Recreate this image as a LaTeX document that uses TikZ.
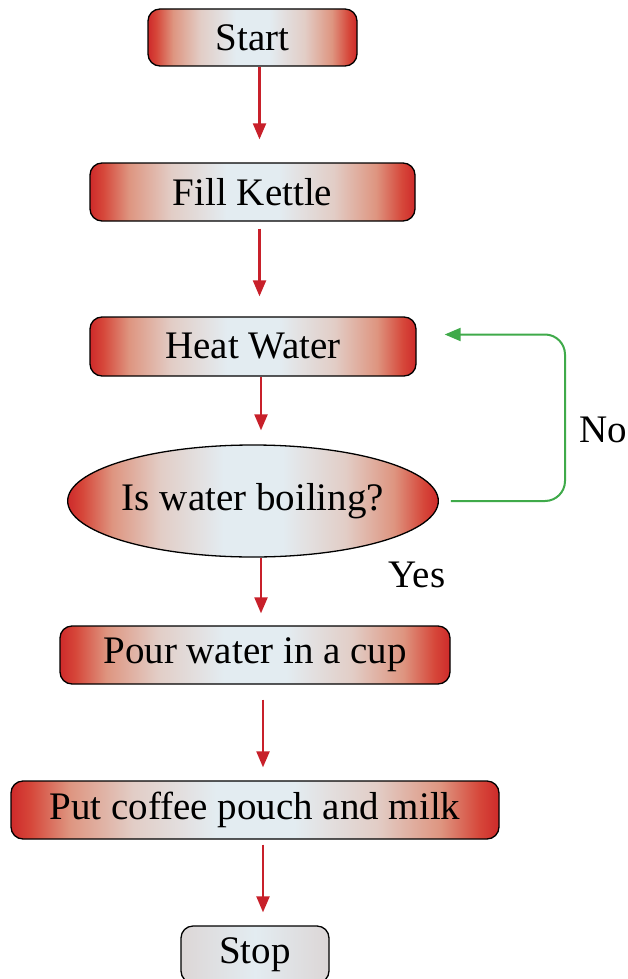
\documentclass[tikz,border=0pt]{standalone}
\usepackage{fontspec}
\setmainfont{Liberation Serif}
\usetikzlibrary{arrows.meta,shapes.geometric,calc}
\definecolor{bred}{HTML}{CE2A2A}
\definecolor{bredtwo}{HTML}{D6473A}
\definecolor{salmon}{HTML}{DE9580}
\definecolor{pinkgray}{HTML}{E2CDC6}
\definecolor{lblue}{HTML}{E3ECF1}
\definecolor{sgray}{HTML}{DCD6D6}
\definecolor{arrred}{HTML}{C8202A}
\definecolor{arrgreen}{HTML}{3FAA4A}
\pgfdeclarehorizontalshading{boxshade}{100bp}{color(0bp)=(bred); color(25bp)=(bred); color(27bp)=(bredtwo); color(31bp)=(salmon); color(37.5bp)=(pinkgray); color(46bp)=(lblue); color(54bp)=(lblue); color(62.5bp)=(pinkgray); color(69bp)=(salmon); color(73bp)=(bredtwo); color(75bp)=(bred); color(100bp)=(bred)}
\pgfdeclarehorizontalshading{stopshade}{100bp}{color(0bp)=(sgray); color(25bp)=(sgray); color(50bp)=(lblue); color(75bp)=(sgray); color(100bp)=(sgray)}
\tikzset{
  box/.style={draw=black, line width=1.3pt, rounded corners=12pt, shade, shading=boxshade, inner sep=0pt, font=\fontsize{39}{45}\selectfont},
  decbox/.style={ellipse, draw=black, line width=1.3pt, shade, shading=boxshade, inner sep=0pt, font=\fontsize{39}{45}\selectfont},
  stopbox/.style={draw=black, line width=1.3pt, rounded corners=12pt, shade, shading=stopshade, inner sep=0pt, font=\fontsize{39}{45}\selectfont},
  lbl/.style={inner sep=0pt, font=\fontsize{39}{45}\selectfont},
  rarr/.style={draw=arrred, line width=2.2pt, -{Triangle[width=13pt,length=16pt]}},
  garr/.style={draw=arrgreen, line width=2pt, rounded corners=20pt, -{Triangle[width=13pt,length=16pt]}}
}
\begin{document}
\begin{tikzpicture}[x=1pt,y=-1pt]
\useasboundingbox (0,0) rectangle (628,979);
\fill[white] (0,0) rectangle (628,979);
\node[box, minimum width=209pt, minimum height=57pt] (start) at (252.5,37.5) {Start};
\node[box, minimum width=325pt, minimum height=58pt] (fill) at (252.5,192) {Fill Kettle};
\node[box, minimum width=326pt, minimum height=59pt] (heat) at (253,346.5) {Heat Water};
\node[decbox, minimum width=370pt, minimum height=112pt] (dec) at (253,501) {Is water boiling?};
\node[box, minimum width=390pt, minimum height=58pt] (pour) at (255,655) {Pour water in a cup};
\node[box, minimum width=488pt, minimum height=58pt] (put) at (255,810) {Put coffee pouch and milk};
\node[stopbox, minimum width=148pt, minimum height=57pt] (stop) at (255,954.5) {Stop};
\node[lbl] (no) at (603,430) {No};
\node[lbl] (yes) at (417,575) {Yes};
\coordinate (nr) at (565,501);
\draw[rarr, shorten >=23pt] ([xshift=7pt]start.south) -- ([xshift=7pt]start.south |- fill.north);
\draw[rarr, shorten <=7pt, shorten >=20pt] ([xshift=7pt]fill.south) -- ([xshift=7pt]fill.south |- heat.north);
\draw[rarr, shorten >=14pt] ([xshift=8pt]heat.south) -- ([xshift=8pt]heat.south |- dec.north);
\draw[rarr, shorten >=12pt] ([xshift=8pt]dec.south) -- ([xshift=8pt]dec.south |- pour.north);
\draw[rarr, shorten <=15pt, shorten >=13pt] ([xshift=8pt]pour.south) -- ([xshift=8pt]pour.south |- put.north);
\draw[rarr, shorten <=5pt, shorten >=13pt] ([xshift=8pt]put.south) -- ([xshift=8pt]put.south |- stop.north);
\draw[garr, shorten <=12pt, shorten >=28pt] (dec.east) -- (nr) |- ([yshift=12pt]heat.east);
\end{tikzpicture}
\end{document}
